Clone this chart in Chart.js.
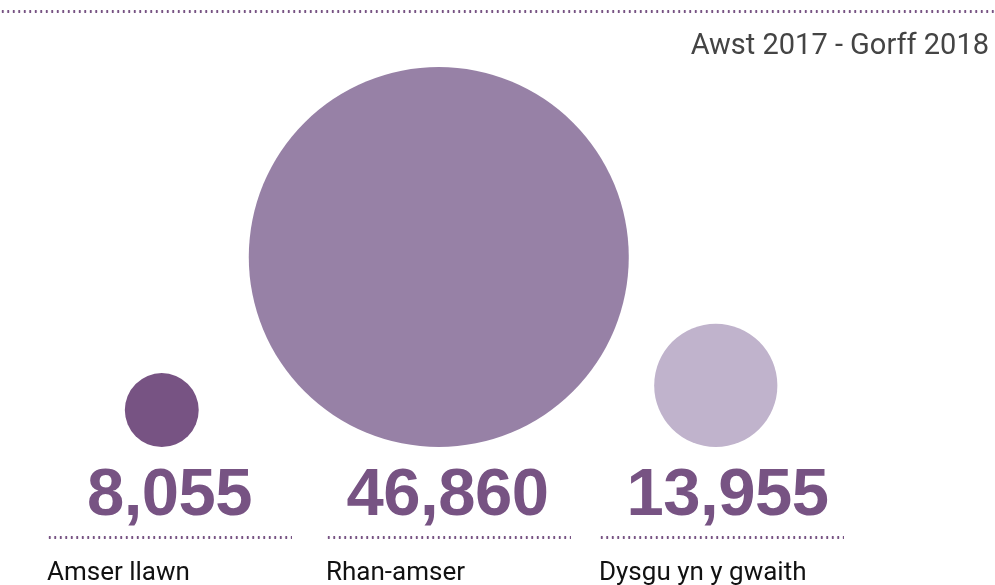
<!DOCTYPE html>
<html>
<head>
<meta charset="utf-8">
<script src="https://cdn.jsdelivr.net/npm/chart.js@4"></script>
<style>
    html, body { margin: 0; padding: 0; background: #fff; overflow: hidden; }
    #wrap { position: relative; width: 995px; height: 585px; }
    #bubbleChart { position: absolute; left: 0; top: 0; }
    .dots {
        position: absolute; height: 3px;
        background-image: radial-gradient(circle, #775383 1.1px, transparent 1.4px);
        background-size: 5.5px 3px;
        background-repeat: repeat-x;
    }
    #period {
        position: absolute; right: 6px; top: 30px;
        font-family: Roboto, sans-serif; font-size: 29px; line-height: 29px;
        color: #444; white-space: nowrap;
    }
    .col { position: absolute; width: 245px; }
    .num {
        position: absolute; left: 0; top: 458px; width: 100%; text-align: center;
        font-family: "Liberation Sans", Arial, sans-serif; font-weight: bold;
        font-size: 67px; line-height: 67px; color: #775383; letter-spacing: -0.5px;
    }
    .lbl {
        position: absolute; left: 0; top: 558px; white-space: nowrap;
        font-family: Roboto, sans-serif; font-size: 26px; line-height: 26px; color: #111;
    }
</style>
</head>
<body>
<div id="wrap">
    <canvas id="bubbleChart" width="995" height="585"></canvas>
    <div class="dots" style="left:0; top:10px; width:995px;"></div>
    <div id="period"></div>
    <div id="cols"></div>
</div>
<script>
// data
const categories = ["Amser llawn", "Rhan-amser", "Dysgu yn y gwaith"];
const learners = [8055, 46860, 13955];
const colours = ["#775383", "#9781a6", "#c0b3cc"];
const period = "Awst 2017 - Gorff 2018";

document.getElementById("period").textContent = period;

// text columns under the circles
const colLeft = [47, 326, 599];
const numShift = [0, -1, 6];
let cols = document.getElementById("cols");
categories.forEach((name, i) => {
    let col = document.createElement("div");
    col.className = "col";
    col.style.left = colLeft[i] + "px";
    col.style.top = "0px";

    let num = document.createElement("div");
    num.className = "num";
    num.style.left = numShift[i] + "px";
    num.textContent = learners[i].toLocaleString("en-GB");
    col.appendChild(num);

    let line = document.createElement("div");
    line.className = "dots";
    line.style.left = "0px";
    line.style.top = "536px";
    line.style.width = "245px";
    col.appendChild(line);

    let lbl = document.createElement("div");
    lbl.className = "lbl";
    lbl.textContent = name;
    col.appendChild(lbl);

    cols.appendChild(col);
});

// circle size: biggest gets 190px radius
const maxVal = Math.max(...learners);
const radius = (v) => 190 * Math.pow(v / maxVal, 0.93);

let ctx = document.getElementById("bubbleChart").getContext("2d");
new Chart(ctx, {
    type: "bubble",
    data: {
        datasets: [
            {
                label: "Dysgwyr",
                // y = r so every circle sits on the same floor line
                data: learners.map((v, i) => ({ x: i, y: radius(v), r: radius(v) })),
                backgroundColor: colours,
                borderWidth: 0,
                hoverRadius: 0,
                hoverBorderWidth: 0,
            },
        ],
    },
    options: {
        responsive: false,
        animation: false,
        layout: { padding: 0, autoPadding: false },
        plugins: { legend: { display: false }, tooltip: { enabled: false } },
        scales: {
            x: { type: "linear", min: -0.584, max: 3.008, display: false },
            y: { type: "linear", min: -138, max: 447, display: false },
        },
        clip: false,
    },
});
</script>
</body>
</html>
